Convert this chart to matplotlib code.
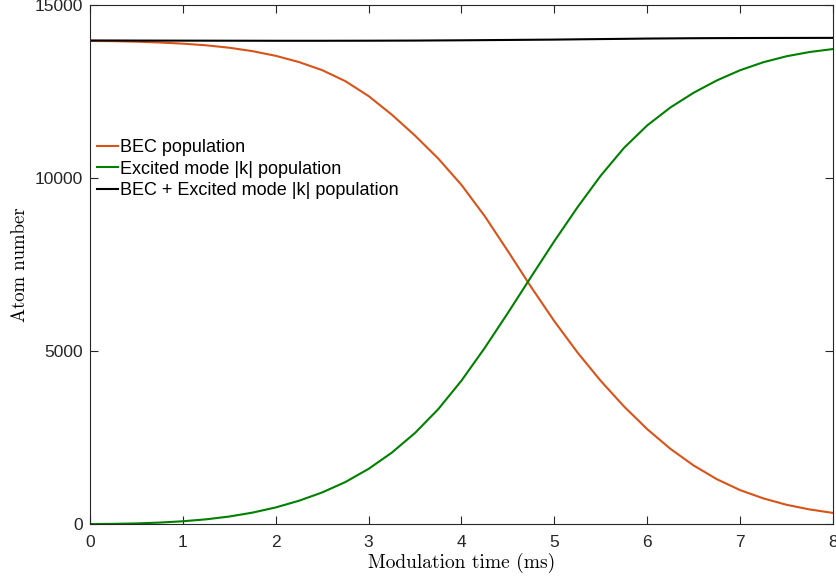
import matplotlib
matplotlib.use("Agg")
import matplotlib.pyplot as plt

t = [0, 0.25, 0.5, 0.75, 1.0, 1.25, 1.5, 1.75, 2.0, 2.25, 2.5, 2.75, 3.0, 3.25, 3.5, 3.75,
     4.0, 4.25, 4.5, 4.75, 5.0, 5.25, 5.5, 5.75, 6.0, 6.25, 6.5, 6.75, 7.0, 7.25, 7.5, 7.75, 8.0]

bec = [13960, 13955, 13940, 13916, 13883, 13835, 13765, 13666, 13531, 13351, 13117, 12798,
       12367, 11830, 11224, 10561, 9798, 8898, 7885, 6847, 5859, 4953, 4134, 3396, 2740,
       2171, 1690, 1294, 979, 740, 555, 420, 320]

excited = [0, 4, 17, 41, 79, 135, 216, 329, 479, 672, 912, 1213, 1594, 2063, 2632, 3320,
           4145, 5089, 6102, 7146, 8177, 9158, 10071, 10871, 11521, 12040, 12465, 12821,
           13115, 13346, 13519, 13642, 13727]

total = [13975, 13974, 13972, 13971, 13970, 13969, 13968, 13967, 13966, 13966, 13966, 13967,
         13968, 13970, 13972, 13976, 13980, 13985, 13990, 13995, 14000, 14008, 14015, 14022,
         14030, 14035, 14040, 14043, 14045, 14047, 14048, 14049, 14050]

labels = ["BEC population", "Excited mode |k| population", "BEC + Excited mode |k| population"]
colors = ["#D95319", "#008000", "#000000"]

x_ticks = [0, 1, 2, 3, 4, 5, 6, 7, 8]
y_ticks = [0, 5000, 10000, 15000]

fig = plt.figure(figsize=(8.36, 5.81), dpi=100)
ax = fig.add_axes([90/836, 57/581, 743/836, 519/581])

ax.plot(t, bec, color=colors[0], lw=1.5, label=labels[0])
ax.plot(t, excited, color=colors[1], lw=1.5, label=labels[1])
ax.plot(t, total, color=colors[2], lw=1.5, label=labels[2])

ax.set_xlim(0, 8)
ax.set_ylim(0, 15000)
ax.set_xticks(x_ticks)
ax.set_yticks(y_ticks)

tick_font = "Liberation Sans"
for lab in ax.get_xticklabels() + ax.get_yticklabels():
    lab.set_fontfamily(tick_font)
    lab.set_fontsize(12.5)
ax.tick_params(direction="in", length=6, width=0.8, colors="#262626",
               top=True, right=True)
ax.tick_params(axis="x", pad=8)
ax.tick_params(axis="y", pad=5)
for s in ax.spines.values():
    s.set_color("#262626")
    s.set_linewidth(0.8)

ax.set_xlabel("Modulation time (ms)", fontfamily="cmr10", fontsize=14, labelpad=2)
ax.set_ylabel("Atom number", fontfamily="cmr10", fontsize=13.5, labelpad=4)

leg = ax.legend(loc="center left", bbox_to_anchor=(0.0, 0.684), frameon=False,
                prop={"family": tick_font, "size": 13}, handlelength=1.15,
                handletextpad=0.12, labelspacing=0.24, borderaxespad=0.0,
                borderpad=0.4)

fig.savefig("out.png", dpi=100)
